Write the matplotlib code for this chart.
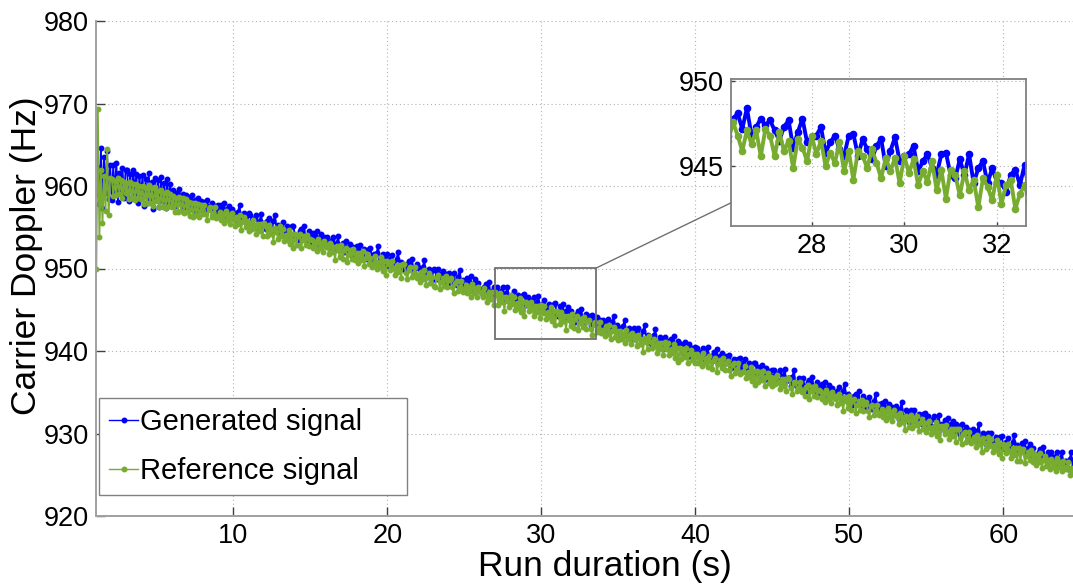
import numpy as np
import matplotlib
matplotlib.use("Agg")
import matplotlib.pyplot as plt
from matplotlib.patches import Rectangle, ConnectionPatch

plt.rcParams['font.family'] = ['Liberation Sans', 'DejaVu Sans']

# Carrier Doppler estimates (Hz), one sample every 0.1 s starting at t = 1.1 s
t_start = 1.1
t_step = 0.1

generated_hz = [
    959.0, 962.3, 957.8, 964.6, 957.3, 963.5, 959.2, 964.3, 958.4, 962.6,
    958.3, 962.5, 959.0, 962.8, 958.1, 961.6, 959.4, 962.2, 958.6, 961.9,
    961.9, 958.2, 961.4, 958.6, 962.0, 959.1, 961.5, 958.0, 961.2, 958.7,
    961.3, 957.6, 960.8, 957.9, 961.6, 958.4, 960.5, 957.2, 961.0, 958.3,
    960.7, 957.5, 961.1, 958.2, 960.4, 957.3, 960.9, 958.0, 960.2, 957.8,
    959.5, 957.6, 959.2, 957.9, 959.6, 958.0, 959.0, 957.4, 958.9, 957.8,
    958.7, 957.2, 958.9, 957.5, 958.3, 957.0, 958.6, 957.4, 958.2, 957.1,
    958.1, 957.0, 958.3, 957.2, 957.6, 958.0, 956.5, 957.6, 957.0, 957.7,
    956.6, 957.7, 956.8, 958.0, 956.3, 957.2, 957.6, 956.3, 957.2, 956.4,
    956.7, 955.7, 956.9, 957.7, 956.0, 955.7, 956.7, 956.4, 955.3, 956.7,
    956.5, 955.9, 955.3, 956.1, 956.5, 954.9, 955.8, 956.6, 955.2, 955.5,
    954.8, 955.7, 956.1, 955.1, 954.7, 955.7, 956.5, 954.8, 955.3, 954.4,
    955.1, 955.6, 954.1, 954.7, 955.1, 954.3, 953.9, 955.1, 955.2, 953.9,
    954.0, 953.5, 954.5, 954.8, 953.9, 955.1, 953.5, 954.0, 954.5, 954.1,
    953.2, 954.3, 953.4, 954.6, 952.9, 953.8, 954.2, 952.9, 953.8, 953.0,
    953.8, 953.2, 952.6, 953.4, 953.8, 952.2, 953.1, 953.9, 952.5, 952.8,
    953.1, 952.0, 953.3, 952.2, 952.6, 953.0, 951.5, 952.6, 952.0, 952.7,
    952.4, 952.9, 951.4, 952.0, 952.4, 951.6, 951.2, 952.4, 952.5, 951.2,
    951.7, 950.7, 951.9, 952.7, 951.0, 950.7, 951.7, 951.4, 950.3, 951.7,
    950.3, 951.2, 951.6, 950.6, 950.2, 951.2, 952.0, 950.3, 950.8, 949.9,
    950.1, 949.6, 950.6, 950.9, 950.0, 951.2, 949.6, 950.1, 950.6, 950.2,
    950.0, 949.0, 950.2, 951.0, 949.3, 949.0, 950.0, 949.7, 948.6, 950.0,
    949.8, 948.7, 950.0, 948.9, 949.3, 949.7, 948.2, 949.3, 948.7, 949.4,
    948.1, 949.0, 949.4, 948.4, 948.0, 949.0, 949.8, 948.1, 948.6, 947.7,
    947.7, 948.8, 947.9, 949.1, 947.4, 948.3, 948.7, 947.4, 948.3, 947.5,
    947.3, 946.8, 947.8, 948.1, 947.2, 948.4, 946.8, 947.3, 947.8, 947.4,
    947.7, 947.1, 946.5, 947.3, 947.7, 946.1, 947.0, 947.8, 946.4, 946.7,
    946.8, 947.3, 945.8, 946.4, 946.8, 946.0, 945.6, 946.8, 946.9, 945.6,
    946.6, 946.0, 945.4, 946.2, 946.6, 945.0, 945.9, 946.7, 945.3, 945.6,
    945.7, 946.2, 944.7, 945.3, 945.7, 944.9, 944.5, 945.7, 945.8, 944.5,
    944.3, 945.4, 944.5, 945.7, 944.0, 944.9, 945.3, 944.0, 944.9, 944.1,
    944.0, 943.5, 944.5, 944.8, 943.9, 945.1, 943.5, 944.0, 944.5, 944.1,
    944.2, 943.1, 944.4, 943.3, 943.7, 944.1, 942.6, 943.7, 943.1, 943.8,
    942.6, 943.5, 943.9, 942.9, 942.5, 943.5, 944.3, 942.6, 943.1, 942.2,
    942.8, 941.8, 943.0, 943.8, 942.1, 941.8, 942.8, 942.5, 941.4, 942.8,
    941.5, 942.4, 942.8, 941.8, 941.4, 942.4, 943.2, 941.5, 942.0, 941.1,
    941.7, 940.7, 941.9, 942.7, 941.0, 940.7, 941.7, 941.4, 940.3, 941.7,
    940.7, 940.2, 941.2, 941.5, 940.6, 941.8, 940.2, 940.7, 941.2, 940.8,
    940.9, 939.8, 941.1, 940.0, 940.4, 940.8, 939.3, 940.4, 939.8, 940.5,
    940.4, 939.8, 939.2, 940.0, 940.4, 938.8, 939.7, 940.5, 939.1, 939.4,
    938.8, 939.9, 939.0, 940.2, 938.5, 939.4, 939.8, 938.5, 939.4, 938.6,
    939.0, 939.5, 938.0, 938.6, 939.0, 938.2, 937.8, 939.0, 939.1, 937.8,
    938.5, 939.0, 937.5, 938.1, 938.5, 937.7, 937.3, 938.5, 938.6, 937.3,
    938.1, 937.0, 938.3, 937.2, 937.6, 938.0, 936.5, 937.6, 937.0, 937.7,
    937.7, 937.1, 936.5, 937.3, 937.7, 936.1, 937.0, 937.8, 936.4, 936.7,
    936.7, 935.7, 936.9, 937.7, 936.0, 935.7, 936.7, 936.4, 935.3, 936.7,
    935.7, 935.2, 936.2, 936.5, 935.6, 936.8, 935.2, 935.7, 936.2, 935.8,
    934.9, 936.0, 935.1, 936.3, 934.6, 935.5, 935.9, 934.6, 935.5, 934.7,
    934.3, 935.2, 935.6, 934.6, 934.2, 935.2, 936.0, 934.3, 934.8, 933.9,
    934.0, 933.5, 934.5, 934.8, 933.9, 935.1, 933.5, 934.0, 934.5, 934.1,
    933.1, 934.0, 934.4, 933.4, 933.0, 934.0, 934.8, 933.1, 933.6, 932.7,
    933.7, 932.6, 933.9, 932.8, 933.2, 933.6, 932.1, 933.2, 932.6, 933.3,
    932.8, 931.8, 933.0, 933.8, 932.1, 931.8, 932.8, 932.5, 931.4, 932.8,
    932.4, 932.9, 931.4, 932.0, 932.4, 931.6, 931.2, 932.4, 932.5, 931.2,
    932.1, 931.5, 930.9, 931.7, 932.1, 930.5, 931.4, 932.2, 930.8, 931.1,
    930.5, 931.6, 930.7, 931.9, 930.2, 931.1, 931.5, 930.2, 931.1, 930.3,
    930.9, 929.8, 931.1, 930.0, 930.4, 930.8, 929.3, 930.4, 929.8, 930.5,
    930.1, 929.1, 930.3, 931.1, 929.4, 929.1, 930.1, 929.8, 928.7, 930.1,
    929.6, 930.1, 928.6, 929.2, 929.6, 928.8, 928.4, 929.6, 929.7, 928.4,
    928.1, 929.0, 929.4, 928.4, 928.0, 929.0, 929.8, 928.1, 928.6, 927.7,
    927.7, 928.8, 927.9, 929.1, 927.4, 928.3, 928.7, 927.4, 928.3, 927.5,
    927.3, 926.8, 927.8, 928.1, 927.2, 928.4, 926.8, 927.3, 927.8, 927.4,
    927.7, 927.1, 926.5, 927.3, 927.7, 926.1, 927.0, 927.8, 926.4, 926.7,
    926.7, 925.7, 926.9, 927.7, 926.0,
]

reference_hz = [
    950.0, 969.3, 953.8, 962.0, 955.5, 961.2, 957.0, 964.5, 956.5, 961.0,
    960.9, 958.8, 960.6, 958.9, 961.0, 959.0, 960.7, 958.6, 960.5, 959.1,
    960.4, 958.4, 960.5, 958.5, 960.2, 958.3, 960.3, 958.6, 960.0, 958.4,
    960.0, 957.8, 959.8, 957.9, 960.1, 958.0, 959.7, 957.6, 959.9, 958.2,
    959.4, 957.4, 959.5, 957.5, 959.2, 957.3, 959.3, 957.6, 959.0, 957.4,
    958.8, 956.9, 958.6, 956.8, 958.7, 957.0, 958.5, 956.7, 958.4, 956.9,
    958.1, 956.4, 957.9, 956.3, 958.0, 956.5, 957.8, 956.2, 957.7, 956.6,
    957.7, 956.6, 955.9, 957.2, 957.4, 956.2, 956.7, 957.4, 956.1, 956.4,
    956.9, 955.9, 956.6, 955.5, 957.0, 955.9, 956.5, 955.4, 956.7, 956.0,
    955.1, 956.3, 955.4, 956.5, 954.7, 955.7, 956.2, 955.0, 955.7, 954.6,
    955.5, 954.8, 955.9, 955.1, 954.2, 955.4, 954.6, 955.4, 953.9, 955.5,
    955.1, 953.9, 955.3, 954.2, 954.8, 953.2, 954.9, 954.4, 953.6, 955.1,
    954.0, 954.8, 953.3, 954.1, 953.5, 954.7, 953.0, 954.2, 952.5, 954.2,
    952.8, 953.9, 954.2, 952.5, 953.4, 953.9, 952.9, 954.1, 952.7, 953.6,
    953.5, 952.5, 953.2, 952.1, 953.6, 952.5, 953.1, 952.0, 953.3, 952.6,
    952.9, 951.7, 953.1, 952.0, 952.6, 951.0, 952.7, 952.2, 951.4, 952.9,
    951.1, 952.2, 952.5, 950.8, 951.7, 952.2, 951.2, 952.4, 951.0, 951.9,
    950.7, 951.9, 951.0, 952.1, 950.3, 951.3, 951.8, 950.6, 951.3, 950.2,
    950.7, 951.5, 950.0, 950.8, 950.2, 951.4, 949.7, 950.9, 949.2, 950.9,
    950.5, 949.8, 950.9, 950.1, 949.2, 950.4, 949.6, 950.4, 948.9, 950.5,
    950.5, 949.4, 948.7, 950.0, 950.2, 949.0, 949.5, 950.2, 948.9, 949.2,
    948.4, 949.6, 948.7, 949.8, 948.0, 949.0, 949.5, 948.3, 949.0, 947.9,
    947.8, 948.9, 949.2, 947.5, 948.4, 948.9, 947.9, 949.1, 947.7, 948.6,
    948.8, 947.7, 947.0, 948.3, 948.5, 947.3, 947.8, 948.5, 947.2, 947.5,
    948.0, 947.0, 947.7, 946.6, 948.1, 947.0, 947.6, 946.5, 947.8, 947.1,
    947.2, 946.5, 947.6, 946.8, 945.9, 947.1, 946.3, 947.1, 945.6, 947.2,
    946.8, 945.6, 947.0, 945.9, 946.5, 944.9, 946.6, 946.1, 945.3, 946.8,
    945.7, 946.5, 945.0, 945.8, 945.2, 946.4, 944.7, 945.9, 944.2, 945.9,
    945.6, 944.9, 946.0, 945.2, 944.3, 945.5, 944.7, 945.5, 944.0, 945.6,
    944.6, 945.4, 943.9, 944.7, 944.1, 945.3, 943.6, 944.8, 943.1, 944.8,
    944.5, 943.3, 944.7, 943.6, 944.2, 942.6, 944.3, 943.8, 943.0, 944.5,
    942.8, 943.9, 944.2, 942.5, 943.4, 943.9, 942.9, 944.1, 942.7, 943.6,
    943.8, 942.7, 942.0, 943.3, 943.5, 942.3, 942.8, 943.5, 942.2, 942.5,
    941.8, 943.0, 942.1, 943.2, 941.4, 942.4, 942.9, 941.7, 942.4, 941.3,
    942.4, 941.4, 942.1, 941.0, 942.5, 941.4, 942.0, 940.9, 942.2, 941.5,
    941.8, 940.6, 942.0, 940.9, 941.5, 939.9, 941.6, 941.1, 940.3, 941.8,
    941.1, 940.4, 941.5, 940.7, 939.8, 941.0, 940.2, 941.0, 939.5, 941.1,
    940.2, 941.0, 939.5, 940.3, 939.7, 940.9, 939.2, 940.4, 938.7, 940.4,
    939.0, 940.2, 939.3, 940.4, 938.6, 939.6, 940.1, 938.9, 939.6, 938.5,
    939.6, 938.6, 939.3, 938.2, 939.7, 938.6, 939.2, 938.1, 939.4, 938.7,
    937.8, 938.9, 939.2, 937.5, 938.4, 938.9, 937.9, 939.1, 937.7, 938.6,
    938.8, 937.7, 937.0, 938.3, 938.5, 937.3, 937.8, 938.5, 937.2, 937.5,
    937.4, 938.2, 936.7, 937.5, 936.9, 938.1, 936.4, 937.6, 935.9, 937.6,
    936.2, 937.4, 936.5, 937.6, 935.8, 936.8, 937.3, 936.1, 936.8, 935.7,
    936.7, 936.0, 937.1, 936.3, 935.4, 936.6, 935.8, 936.6, 935.1, 936.7,
    936.6, 935.5, 934.8, 936.1, 936.3, 935.1, 935.6, 936.3, 935.0, 935.3,
    934.5, 935.6, 935.9, 934.2, 935.1, 935.6, 934.6, 935.8, 934.4, 935.3,
    935.2, 934.2, 934.9, 933.8, 935.3, 934.2, 934.8, 933.7, 935.0, 934.3,
    934.6, 933.4, 934.8, 933.7, 934.3, 932.7, 934.4, 933.9, 933.1, 934.6,
    932.8, 933.9, 934.2, 932.5, 933.4, 933.9, 932.9, 934.1, 932.7, 933.6,
    933.8, 932.7, 932.0, 933.3, 933.5, 932.3, 932.8, 933.5, 932.2, 932.5,
    933.0, 932.0, 932.7, 931.6, 933.1, 932.0, 932.6, 931.5, 932.8, 932.1,
    932.3, 931.1, 932.5, 931.4, 932.0, 930.4, 932.1, 931.6, 930.8, 932.3,
    930.7, 931.9, 931.0, 932.1, 930.3, 931.3, 931.8, 930.6, 931.3, 930.2,
    930.7, 931.5, 930.0, 930.8, 930.2, 931.4, 929.7, 930.9, 929.2, 930.9,
    930.6, 929.9, 931.0, 930.2, 929.3, 930.5, 929.7, 930.5, 929.0, 930.6,
    930.5, 929.4, 928.7, 930.0, 930.2, 929.0, 929.5, 930.2, 928.9, 929.2,
    929.6, 928.4, 929.8, 928.7, 929.3, 927.7, 929.4, 928.9, 928.1, 929.6,
    928.5, 929.3, 927.8, 928.6, 928.0, 929.2, 927.5, 928.7, 927.0, 928.7,
    928.3, 927.6, 928.7, 927.9, 927.0, 928.2, 927.4, 928.2, 926.7, 928.3,
    926.7, 927.8, 928.1, 926.4, 927.3, 927.8, 926.8, 928.0, 926.6, 927.5,
    926.2, 927.4, 926.5, 927.6, 925.8, 926.8, 927.3, 926.1, 926.8, 925.7,
    926.9, 925.9, 926.6, 925.5, 927.0, 925.9, 926.5, 925.4, 926.7, 926.0,
    925.7, 926.5, 925.0, 925.8, 925.2,
]

series_labels = ['Generated signal', 'Reference signal']
series_colors = ['#0000FF', '#77AC30']

x_ticks = [10, 20, 30, 40, 50, 60]
y_ticks = [920, 930, 940, 950, 960, 970, 980]
inset_x_ticks = [28, 30, 32]
inset_y_ticks = [945, 950]

# zoom window drawn on the main axes and the limits of the magnified view
zoom_box = (27.0, 941.45, 33.55, 950.05)
inset_xlim = (26.25, 32.63)
inset_ylim = (941.5, 950.1)

run_time = np.round(t_start + t_step * np.arange(len(generated_hz)), 1)
series = [np.array(generated_hz), np.array(reference_hz)]

W, H = 1073, 586
fig = plt.figure(figsize=(W / 100, H / 100), dpi=100)

# main axes (extends a little past the right edge of the canvas)
ax = fig.add_axes([96 / W, 1 - 516 / H, (1113 - 96) / W, (516 - 21) / H])
for y, lab, col in zip(series, series_labels, series_colors):
    ax.plot(run_time, y, color=col, lw=1.3, marker='.', ms=6.5, label=lab)

ax.set_xlim(1.08, 67.12)
ax.set_ylim(920, 980)
ax.set_xticks(x_ticks)
ax.set_yticks(y_ticks)
ax.grid(True, color='#b4b4b4', linestyle=(0, (1, 2.5)), linewidth=0.8)
for side in ('top', 'right'):
    ax.spines[side].set_visible(False)
for side in ('left', 'bottom'):
    ax.spines[side].set_color('#a0a0a0')
    ax.spines[side].set_linewidth(1.4)
ax.tick_params(direction='in', length=6.5, width=1.0, color='#404040',
               labelsize=19.5, pad=5)
ax.set_xlabel('Run duration (s)', fontsize=25.5, labelpad=1)
ax.set_ylabel('Carrier Doppler (Hz)', fontsize=25.5, labelpad=4)
ax.yaxis.set_label_coords(-0.052, 0.525)

leg = ax.legend(loc='lower left', bbox_to_anchor=(3 / 1017, 21 / 495, 308 / 1017, 0.05),
                mode='expand', borderaxespad=0, fontsize=21, numpoints=1,
                handlelength=1.0, handletextpad=0.05, labelspacing=0.72,
                borderpad=0.35, fancybox=False, framealpha=1)
leg.get_frame().set_edgecolor('#808080')
leg.get_frame().set_linewidth(1.0)
for h in leg.get_lines():
    h.set_linewidth(1.0)

# zoom window on the main axes
x0, y0, x1, y1 = zoom_box
ax.add_patch(Rectangle((x0, y0), x1 - x0, y1 - y0, fill=False,
                       edgecolor='#707070', lw=1.3, zorder=5))

# magnified view
axin = fig.add_axes([730.7 / W, 1 - 226 / H, (1026 - 730.7) / W, (226 - 79.3) / H])
for y, lab, col in zip(series, series_labels, series_colors):
    axin.plot(run_time, y, color=col, lw=2.8, marker='.', ms=9)
axin.set_xlim(*inset_xlim)
axin.set_ylim(*inset_ylim)
axin.set_xticks(inset_x_ticks)
axin.set_yticks(inset_y_ticks)
axin.grid(True, color='#b4b4b4', linestyle=(0, (1, 2.5)), linewidth=0.8)
for s in axin.spines.values():
    s.set_color('#808080')
    s.set_linewidth(1.3)
axin.tick_params(direction='in', length=3, width=1.0, color='#404040',
                 labelsize=19.5, pad=5)

con = ConnectionPatch(xyA=(x1, y1), coordsA=ax.transData,
                      xyB=(0, 0.157), coordsB=axin.transAxes,
                      color='#707070', lw=1.0)
fig.add_artist(con)

fig.savefig('out.png', dpi=100)
